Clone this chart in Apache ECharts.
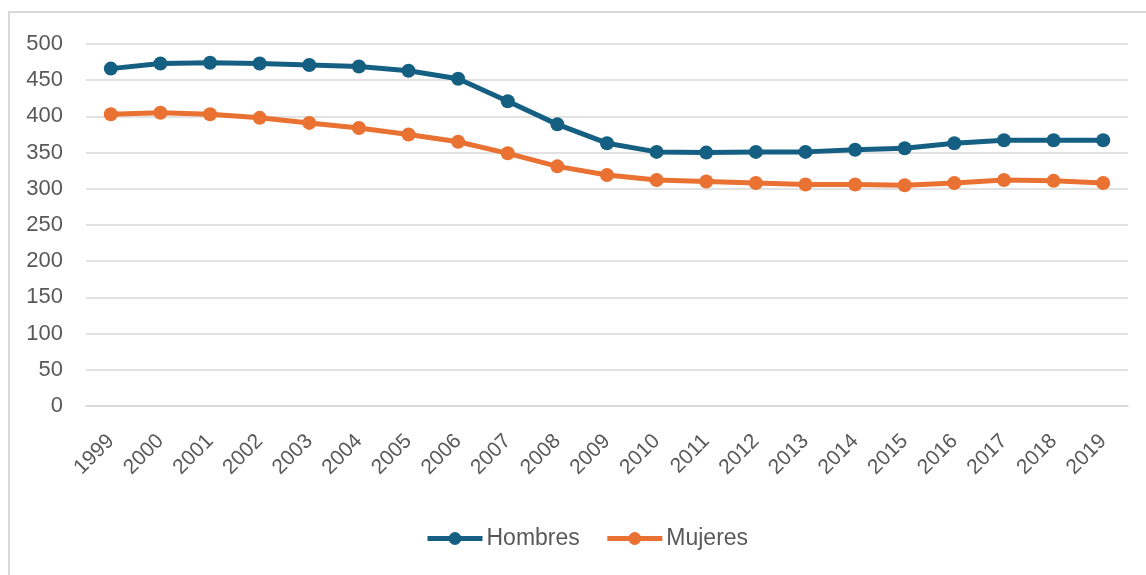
<!DOCTYPE html>
<html>
<head>
<meta charset="utf-8">
<script src="https://cdn.jsdelivr.net/npm/echarts@6/dist/echarts.min.js"></script>
<style>
  html, body { margin: 0; padding: 0; background: #fff; }
  #frame {
    position: absolute; left: 8px; top: 11px; width: 1146px; height: 575px;
    border-left: 2px solid #d9d9d9; border-top: 2px solid #d9d9d9;
  }
  #main { position: absolute; left: 0; top: 0; width: 1146px; height: 575px; }
</style>
</head>
<body>
<div id="frame"></div>
<div id="main"></div>
<script>
// años
const years = ['1999', '2000', '2001', '2002', '2003', '2004', '2005', '2006', '2007', '2008',
  '2009', '2010', '2011', '2012', '2013', '2014', '2015', '2016', '2017', '2018', '2019']
const hombres = [466, 473, 474, 473, 471, 469, 463, 452, 421, 389,
  363, 351, 350, 351, 351, 354, 356, 363, 367, 367, 367]
const mujeres = [403, 405, 403, 398, 391, 384, 375, 365, 349, 331,
  319, 312, 310, 308, 306, 306, 305, 308, 312, 311, 308]
const yTicks = [0, 50, 100, 150, 200, 250, 300, 350, 400, 450, 500]

const font = 'Liberation Sans, Arial, sans-serif'
const textColor = '#595959'

const myChart = echarts.init(document.getElementById('main'))

function lineSeries (name, data, color) {
  return {
    name: name,
    type: 'line',
    data: data,
    symbol: 'circle',
    symbolSize: 14,
    itemStyle: { color: color },
    lineStyle: { color: color, width: 5 },
    z: name === 'Hombres' ? 3 : 2
  }
}

const option = {
  animation: false,
  grid: { left: 86, right: 18, top: 44, bottom: 169, containLabel: false },
  legend: {
    bottom: 20,
    left: 420,
    itemWidth: 55,
    itemHeight: 16,
    itemGap: 25,
    lineStyle: { width: 5 },
    textStyle: { fontFamily: font, fontSize: 23, color: textColor, padding: [0, 0, 0, -1] },
    data: ['Hombres', 'Mujeres']
  },
  xAxis: {
    type: 'category',
    data: years,
    boundaryGap: true,
    axisLine: { show: true, lineStyle: { color: '#d9d9d9', width: 1.5 } },
    axisTick: { show: false },
    axisLabel: {
      rotate: 45,
      margin: 32,
      interval: 0,
      fontFamily: font,
      fontSize: 21,
      color: textColor
    }
  },
  yAxis: {
    type: 'value',
    min: yTicks[0],
    max: yTicks[yTicks.length - 1],
    interval: 50,
    axisLine: { show: false },
    axisTick: { show: false },
    axisLabel: { margin: 23, fontFamily: font, fontSize: 22, color: textColor },
    splitLine: { lineStyle: { color: '#d9d9d9', width: 1.5 } }
  },
  series: [
    lineSeries('Hombres', hombres, '#156082'),
    lineSeries('Mujeres', mujeres, '#E97132')
  ]
}
myChart.setOption(option)
</script>
</body>
</html>
